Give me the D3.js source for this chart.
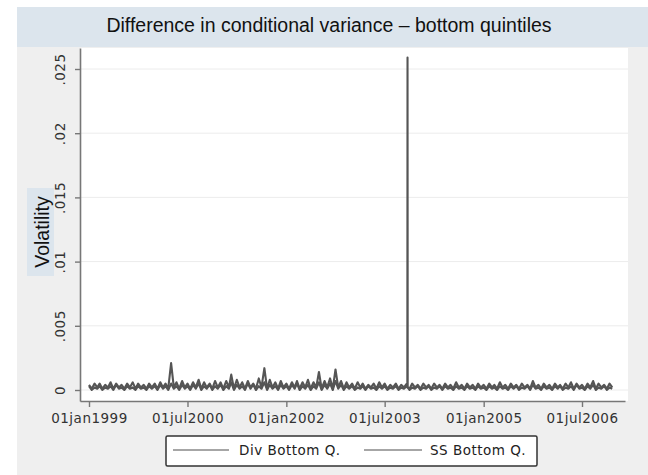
<!DOCTYPE html>
<html>
<head>
<meta charset="utf-8">
<script src="https://cdn.jsdelivr.net/npm/d3@7"></script>
<style>
  body { margin: 0; background: #fff; }
  svg { display: block; }
</style>
</head>
<body>
<svg id="chart" width="648" height="475"></svg>
<script>
/*global d3*/

// values are in units of 1e-4, two readings per month (1st, 16th), jan 1999 - dec 2006
const UNIT = 1e-4;

const divBottom = [
  4,1,5,2,5,1,4,2,6,1,5,2,4,1,5,2,6,1,5,2,4,1,5,2,
  5,1,6,2,5,1,21,2,6,1,7,2,5,1,6,2,8,1,6,2,5,1,7,2,
  6,1,7,2,12,1,8,2,6,1,7,2,5,1,9,2,17,1,8,2,6,1,7,2,
  5,1,6,2,7,1,6,2,8,1,6,2,14,1,7,2,9,1,16,2,7,1,6,2,
  5,1,6,2,5,1,4,2,5,1,6,2,5,1,4,2,5,1,4,2,5,1,5,2,
  4,1,5,2,4,1,5,2,4,1,5,2,4,1,6,2,4,1,5,2,4,1,5,2,
  4,1,5,2,4,1,6,2,4,1,5,2,4,1,5,2,4,1,7,2,4,1,5,2,
  4,1,5,2,4,1,5,2,6,1,5,2,4,1,5,2,7,1,5,2,4,1,5,2
];

// the one-day jump in the Div series, daily readings
const divSpikeDates = ["2003-11-04", "2003-11-05", "2003-11-06"];
const divSpikeValues = [2, 259, 2];

const ssBottom = [
  3,0,2,1,3,0,2,1,3,0,4,1,2,0,3,1,2,0,3,1,2,0,3,1,
  3,0,4,1,3,0,5,1,3,0,4,1,3,0,4,1,5,0,3,1,4,0,3,1,
  4,0,3,1,6,0,4,1,3,0,5,1,4,0,3,1,6,0,4,1,3,0,4,1,
  3,0,4,1,5,0,3,1,4,0,3,1,6,0,4,1,5,0,7,1,4,0,3,1,
  3,0,2,1,3,0,3,1,2,0,3,1,3,0,2,1,3,0,2,1,3,0,2,1,
  3,0,2,1,3,0,2,1,3,0,3,1,2,0,3,1,2,0,3,1,2,0,3,1,
  2,0,3,1,2,0,3,1,2,0,3,1,3,0,2,1,3,0,4,1,2,0,3,1,
  2,0,3,1,3,0,2,1,3,0,4,1,2,0,3,1,4,0,2,1,3,0,2,1
];

const seriesNames = ["Div Bottom Q.", "SS Bottom Q."];

const xTickDates = ["1999-01-01", "2000-07-01", "2002-01-01", "2003-07-01", "2005-01-01", "2006-07-01"];
const xTickLabels = ["01jan1999", "01jul2000", "01jan2002", "01jul2003", "01jan2005", "01jul2006"];

const yTickValues = [0, 0.005, 0.01, 0.015, 0.02, 0.025];
const yTickLabels = ["0", ".005", ".01", ".015", ".02", ".025"];

const title = "Difference in conditional variance \u2013 bottom quintiles";
const yTitle = "Volatility";

// layout
const plot = { left: 80, right: 628, top: 48, bottom: 401 };
const stataFont = "'DejaVu Sans', sans-serif";
const lineColor = "#555";

const svg = d3.select("#chart");

// outer grey region + title banner
svg.append("rect")
  .attr("x", 17).attr("y", 47).attr("width", 631).attr("height", 428)
  .attr("fill", "#efefef");
svg.append("rect")
  .attr("x", 17).attr("y", 7).attr("width", 631).attr("height", 40)
  .attr("fill", "#dce5ed");
svg.append("text")
  .attr("x", 329).attr("y", 32)
  .attr("text-anchor", "middle")
  .style("font-family", "'Liberation Sans', Arial, sans-serif")
  .style("font-size", "19.5px")
  .attr("fill", "#111")
  .text(title);

// plot region
svg.append("rect")
  .attr("x", plot.left).attr("y", plot.top)
  .attr("width", plot.right - plot.left).attr("height", plot.bottom - plot.top)
  .attr("fill", "#fff");

const parse = d3.timeParse("%Y-%m-%d");
const tickDates = xTickDates.map(parse);

// jan1999 tick at 89, jul2006 tick at 582
const xRef = d3.scaleTime()
  .domain([tickDates[0], tickDates[tickDates.length - 1]])
  .range([89, 582]);
const x = d3.scaleTime()
  .domain([xRef.invert(plot.left), xRef.invert(plot.right - 3)])
  .range([plot.left, plot.right - 3]);

const yRef = d3.scaleLinear().domain([0, 0.025]).range([390, 69]);
const y = d3.scaleLinear()
  .domain([yRef.invert(plot.bottom), yRef.invert(plot.top)])
  .range([plot.bottom, plot.top]);

// gridlines
svg.append("g")
  .selectAll("line")
  .data(yTickValues)
  .enter()
  .append("line")
  .attr("x1", plot.left).attr("x2", plot.right)
  .attr("y1", d => y(d)).attr("y2", d => y(d))
  .attr("stroke", "#ececec")
  .attr("stroke-width", 1);

// dates of the half-monthly readings
const readingDate = i => new Date(1999 + Math.floor(i / 24), Math.floor((i % 24) / 2), i % 2 ? 16 : 1);

const ssData = ssBottom.map((v, i) => ({ date: readingDate(i), value: v }));
const divData = divBottom.map((v, i) => ({ date: readingDate(i), value: v }))
  .concat(divSpikeDates.map((d, i) => ({ date: parse(d), value: divSpikeValues[i] })))
  .sort((a, b) => a.date - b.date);

const line = d3.line()
  .x(d => x(d.date))
  .y(d => y(d.value * UNIT));

[ssData, divData].forEach(s => {
  svg.append("path")
    .datum(s)
    .attr("d", line)
    .attr("fill", "none")
    .attr("stroke", lineColor)
    .attr("stroke-width", 2.1)
    .attr("stroke-linejoin", "round");
});

// y axis
const yAxis = svg.append("g")
  .attr("transform", `translate(${plot.left},0)`)
  .call(d3.axisLeft(y).tickValues(yTickValues).tickSize(5).tickSizeOuter(0).tickFormat((d, i) => yTickLabels[i]));
yAxis.select(".domain").attr("stroke", "#777").attr("stroke-width", 1.6);
yAxis.selectAll(".tick line").attr("stroke", "#777").attr("stroke-width", 1.4);
yAxis.selectAll(".tick text")
  .attr("x", null).attr("dy", null)
  .attr("transform", "translate(-15,0) rotate(-90)")
  .attr("text-anchor", "middle")
  .attr("fill", "#333")
  .style("font-family", stataFont)
  .style("font-size", "13.5px")
  .style("letter-spacing", "0.5px");

// x axis
const xAxis = svg.append("g")
  .attr("transform", `translate(0,${plot.bottom})`)
  .call(d3.axisBottom(x).tickValues(tickDates).tickSize(6).tickSizeOuter(0).tickFormat((d, i) => xTickLabels[i]));
xAxis.select(".domain").attr("stroke", "#777").attr("stroke-width", 1.6);
xAxis.selectAll(".tick line").attr("stroke", "#777").attr("stroke-width", 1.4);
xAxis.selectAll(".tick text")
  .attr("y", 22).attr("dy", null)
  .attr("fill", "#333")
  .style("font-family", stataFont)
  .style("font-size", "13.5px")
  .style("letter-spacing", "0.5px");

// y title with light blue box
svg.append("rect")
  .attr("x", 27).attr("y", 188).attr("width", 27).attr("height", 88)
  .attr("fill", "#dce5ed");
svg.append("text")
  .attr("transform", "translate(49,232) rotate(-90)")
  .attr("text-anchor", "middle")
  .style("font-family", "'Liberation Sans', Arial, sans-serif")
  .style("font-size", "19.5px")
  .attr("fill", "#111")
  .text(yTitle);

// legend
const legend = svg.append("g");
legend.append("rect")
  .attr("x", 166).attr("y", 436).attr("width", 371).attr("height", 30)
  .attr("rx", 1.5)
  .attr("fill", "#fff")
  .attr("stroke", "#333")
  .attr("stroke-width", 1.5);

const legendX = [{ x1: 173, x2: 229, tx: 239 }, { x1: 364, x2: 422, tx: 430 }];
seriesNames.forEach((name, i) => {
  legend.append("line")
    .attr("x1", legendX[i].x1).attr("x2", legendX[i].x2)
    .attr("y1", 450).attr("y2", 450)
    .attr("stroke", "#888")
    .attr("stroke-width", 1.6);
  legend.append("text")
    .attr("x", legendX[i].tx).attr("y", 455)
    .attr("fill", "#222")
    .style("font-family", stataFont)
    .style("font-size", "13.5px")
    .style("letter-spacing", "0.5px")
    .text(name);
});
</script>
</body>
</html>
